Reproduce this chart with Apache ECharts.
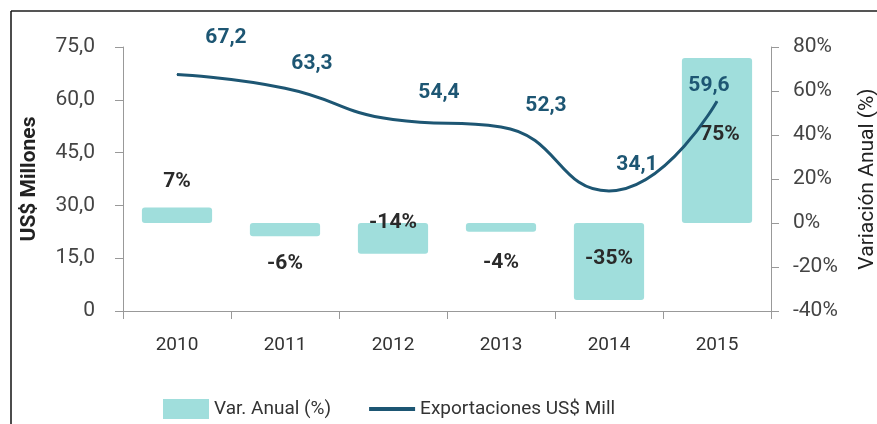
<!DOCTYPE html>
<html>
<head>
<meta charset="utf-8">
<script src="https://cdn.jsdelivr.net/npm/echarts@6/dist/echarts.min.js"></script>
<style>
  html, body { margin: 0; padding: 0; background: #fff; }
  #chart { width: 877px; height: 424px; }
</style>
</head>
<body>
<div id="chart"></div>
<script>
// datos
const years = ['2010', '2011', '2012', '2013', '2014', '2015'];
const exportaciones = [67.2, 63.3, 54.4, 52.3, 34.1, 59.6];
const variacion = [7, -6, -14, -4, -35, 75];
const leftTicks = { min: 0, max: 75, step: 15 };
const rightTicks = { min: -40, max: 80, step: 20 };

const FONT = 'Roboto, "Liberation Sans", sans-serif';
const lineColor = '#1d5673';
const barColor = '#a0dedc';

// desplazamientos de etiquetas (como en el original)
const lineLabelOffsets = [[49, -37], [27, -24], [46, -27], [45, -21], [28, -26], [-8, -15]];
const barLabelOffsets = [[0, -34], [0, 34], [0, -16], [0, 35], [0, -3], [3, -6]];

const chart = echarts.init(document.getElementById('chart'));

chart.setOption({
  animation: false,
  textStyle: { fontFamily: FONT },
  grid: { left: 123, right: 106, top: 47, bottom: 113, outerBoundsMode: 'none', containLabel: false },
  graphic: [
    { type: 'line', shape: { x1: 11, y1: 11, x2: 877, y2: 11 }, style: { stroke: '#555', lineWidth: 2 } },
    { type: 'line', shape: { x1: 11, y1: 11, x2: 11, y2: 424 }, style: { stroke: '#111', lineWidth: 1.5 } }
  ],
  legend: {
    left: 158,
    top: 394,
    itemWidth: 46,
    itemHeight: 20,
    itemGap: 36,
    textStyle: { fontSize: 19, color: '#333', fontFamily: FONT },
    data: [
      { name: 'Var. Anual (%)', icon: 'rect' },
      { name: 'Exportaciones US$ Mill', itemStyle: { opacity: 0 }, lineStyle: { width: 4 } }
    ]
  },
  xAxis: {
    type: 'category',
    data: years,
    axisLine: { lineStyle: { color: '#999' } },
    axisTick: { show: true, length: 8, inside: false, lineStyle: { color: '#999' } },
    axisLabel: { color: '#333', fontSize: 19, margin: 25 }
  },
  yAxis: [
    {
      type: 'value',
      min: leftTicks.min,
      max: leftTicks.max,
      interval: leftTicks.step,
      name: 'US$ Millones',
      nameLocation: 'middle',
      nameRotate: 90,
      nameGap: 83,
      nameTextStyle: { fontSize: 21, fontWeight: 'bold', color: '#222' },
      axisLine: { show: true, lineStyle: { color: '#999' } },
      axisTick: { show: true, length: 8, lineStyle: { color: '#999' } },
      splitLine: { show: false },
      axisLabel: {
        color: '#444',
        fontSize: 21,
        margin: 28,
        formatter: v => v === 0 ? '0' : v.toFixed(1).replace('.', ',')
      }
    },
    {
      type: 'value',
      min: rightTicks.min,
      max: rightTicks.max,
      interval: rightTicks.step,
      name: 'Variación Anual (%)',
      nameLocation: 'middle',
      nameRotate: 90,
      nameGap: 86,
      nameTextStyle: { fontSize: 21, color: '#222' },
      axisLine: { show: true, lineStyle: { color: '#999' } },
      axisTick: { show: true, length: 8, lineStyle: { color: '#999' } },
      splitLine: { show: false },
      axisLabel: { color: '#444', fontSize: 21, margin: 22, formatter: '{value}%' }
    }
  ],
  series: [
    {
      name: 'Var. Anual (%)',
      type: 'bar',
      yAxisIndex: 1,
      barWidth: '65%',
      itemStyle: { color: barColor, borderRadius: 3 },
      data: variacion.map((v, i) => ({
        value: v,
        label: {
          show: true,
          position: 'inside',
          offset: barLabelOffsets[i],
          formatter: v + '%',
          color: '#2a2a2a',
          fontSize: 21,
          fontWeight: 'bold'
        }
      }))
    },
    {
      name: 'Exportaciones US$ Mill',
      type: 'line',
      yAxisIndex: 0,
      smooth: 0.5,
      symbol: 'circle',
      symbolSize: 1,
      showSymbol: true,
      lineStyle: { color: lineColor, width: 3 },
      itemStyle: { color: lineColor },
      data: exportaciones.map((v, i) => ({
        value: v,
        label: {
          show: true,
          position: 'inside',
          offset: lineLabelOffsets[i],
          formatter: v.toFixed(1).replace('.', ','),
          color: lineColor,
          fontSize: 21,
          fontWeight: 'bold'
        }
      }))
    }
  ]
});
</script>
</body>
</html>
